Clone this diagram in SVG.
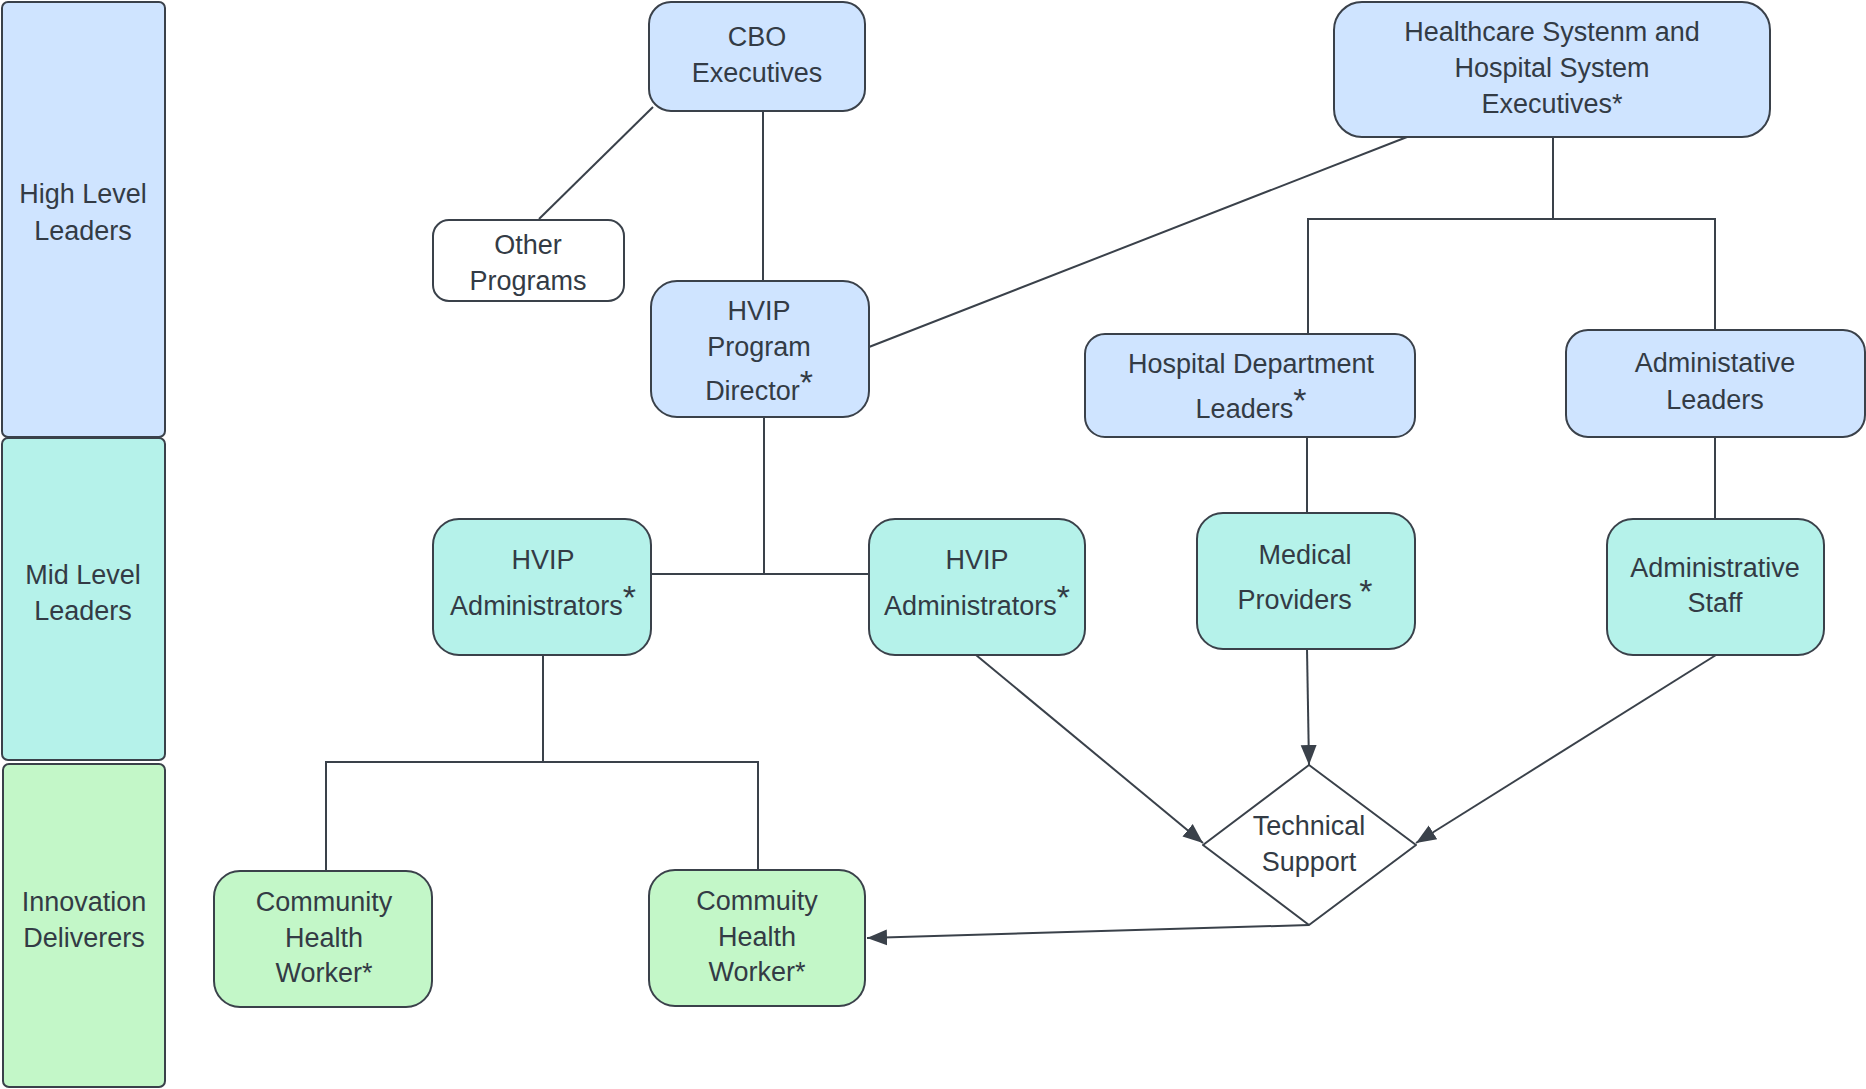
<svg xmlns="http://www.w3.org/2000/svg" width="1866" height="1089" viewBox="0 0 1866 1089">
<style>
text{font-family:"Liberation Sans",Arial,sans-serif;font-size:27px;fill:#333b45;text-anchor:middle}
.n{stroke:#3a414a;stroke-width:2}
.b{fill:#cfe4ff}.t{fill:#b5f2ea}.g{fill:#c3f7c8}.w{fill:#fff}
.c{fill:none;stroke:#3a414a;stroke-width:2}
.s{font-size:34px}
</style>
<defs><marker id="a" viewBox="0 0 10 10" refX="10" refY="5" markerWidth="9" markerHeight="9" markerUnits="userSpaceOnUse" orient="auto"><path d="M0,0L10,5L0,10z" fill="#3a414a"/></marker>
<marker id="ah" viewBox="0 0 10 10" refX="10" refY="5" markerWidth="20" markerHeight="20" markerUnits="userSpaceOnUse" orient="auto"><path d="M0,1L10,5L0,9z" fill="#3a414a"/></marker></defs>
<g id="lanes">
<g id="lane-high"><rect class="n b" x="2" y="2" width="163" height="435" rx="6"/><text x="83" y="203">High Level</text><text x="83" y="240">Leaders</text></g>
<g id="lane-mid"><rect class="n t" x="2" y="438" width="163" height="322" rx="6"/><text x="83" y="584">Mid Level</text><text x="83" y="620">Leaders</text></g>
<g id="lane-innov"><rect class="n g" x="3" y="764" width="162" height="323" rx="6"/><text x="84" y="911">Innovation</text><text x="84" y="947">Deliverers</text></g>
</g>
<g id="connectors">
<path class="c" d="M653,107L539,219"/>
<path class="c" d="M763,111V281"/>
<path class="c" d="M1407,137L869,347"/>
<path class="c" d="M1553,137V219M1308,334V219H1715V330"/>
<path class="c" d="M1307,437V513"/>
<path class="c" d="M1715,437V519"/>
<path class="c" d="M764,417V574M651,574H869"/>
<path class="c" d="M543,655V762M326,871V762H758V870"/>
<path class="c" marker-end="url(#ah)" d="M976,655L1203,843"/>
<path class="c" marker-end="url(#ah)" d="M1307,649L1309,765"/>
<path class="c" marker-end="url(#ah)" d="M1716,655L1416,843"/>
<path class="c" marker-end="url(#ah)" d="M1309,925L867,938"/>
</g>
<g id="cbo"><rect class="n b" x="649" y="2" width="216" height="109" rx="22"/><text x="757" y="46">CBO</text><text x="757" y="82">Executives</text></g>
<g id="healthcare"><rect class="n b" x="1334" y="2" width="436" height="135" rx="28"/><text x="1552" y="41">Healthcare Systenm and</text><text x="1552" y="77">Hospital System</text><text x="1552" y="113">Executives*</text></g>
<g id="other"><rect class="n w" x="433" y="220" width="191" height="81" rx="16"/><text x="528" y="254">Other</text><text x="528" y="290">Programs</text></g>
<g id="director"><rect class="n b" x="651" y="281" width="218" height="136" rx="26"/><text x="759" y="320">HVIP</text><text x="759" y="356">Program</text><text x="759" y="400">Director<tspan class="s" dy="-6">*</tspan></text></g>
<g id="hospdept"><rect class="n b" x="1085" y="334" width="330" height="103" rx="20"/><text x="1251" y="373">Hospital Department</text><text x="1251" y="418">Leaders<tspan class="s" dy="-6">*</tspan></text></g>
<g id="adminleaders"><rect class="n b" x="1566" y="330" width="299" height="107" rx="22"/><text x="1715" y="372">Administative</text><text x="1715" y="409">Leaders</text></g>
<g id="hvipadmin1"><rect class="n t" x="433" y="519" width="218" height="136" rx="26"/><text x="543" y="569">HVIP</text><text x="543" y="615">Administrators<tspan class="s" dy="-6">*</tspan></text></g>
<g id="hvipadmin2"><rect class="n t" x="869" y="519" width="216" height="136" rx="26"/><text x="977" y="569">HVIP</text><text x="977" y="615">Administrators<tspan class="s" dy="-6">*</tspan></text></g>
<g id="medical"><rect class="n t" x="1197" y="513" width="218" height="136" rx="26"/><text x="1305" y="564">Medical</text><text x="1305" y="609">Providers <tspan class="s" dy="-6">*</tspan></text></g>
<g id="adminstaff"><rect class="n t" x="1607" y="519" width="217" height="136" rx="26"/><text x="1715" y="577">Administrative</text><text x="1715" y="612">Staff</text></g>
<g id="techsupport"><path class="n w" d="M1309,765L1416,845L1309,925L1203,845Z" stroke-linejoin="round"/><text x="1309" y="835">Technical</text><text x="1309" y="871">Support</text></g>
<g id="chw1"><rect class="n g" x="214" y="871" width="218" height="136" rx="26"/><text x="324" y="911">Community</text><text x="324" y="947">Health</text><text x="324" y="982">Worker*</text></g>
<g id="chw2"><rect class="n g" x="649" y="870" width="216" height="136" rx="26"/><text x="757" y="910">Commuity</text><text x="757" y="946">Health</text><text x="757" y="981">Worker*</text></g>
</svg>
